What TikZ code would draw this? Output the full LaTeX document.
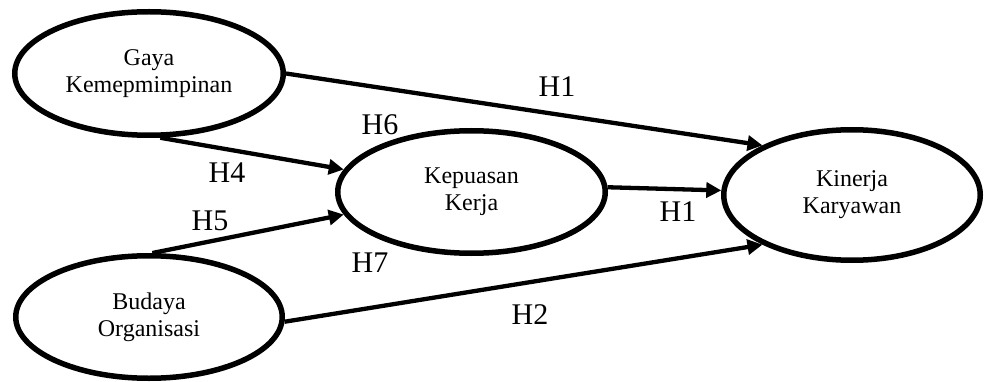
\documentclass[tikz,border=0pt]{standalone}
\usepackage{fontspec}
\setmainfont{Liberation Serif}
\usetikzlibrary{shapes.geometric,arrows.meta}
\begin{document}
\begin{tikzpicture}[x=1pt,y=-1pt,
  var/.style={ellipse,draw,line width=5.5pt,inner sep=0pt,align=center,
    font=\fontsize{24}{27}\selectfont},
  link/.style={line width=4.3pt,-{Triangle[length=15pt,width=15pt]}},
  hyp/.style={font=\fontsize{30}{32}\selectfont,inner sep=0pt}]
\useasboundingbox (0,0) rectangle (984,382);
\node[var,minimum width=268.5pt,minimum height=123.5pt] (gaya) at (149,73.5) {Gaya\\Kemepmimpinan};
\node[var,minimum width=266.5pt,minimum height=122.5pt] (bud) at (149,317) {Budaya\\Organisasi};
\node[var,minimum width=267.5pt,minimum height=122.5pt] (kep) at (471.5,192) {Kepuasan\\Kerja};
\node[var,minimum width=256.5pt,minimum height=130.5pt] (kin) at (852,195) {Kinerja\\Karyawan};

\draw[link] (gaya.east) -- (kin.151);
\draw[link] (gaya.-80) -- (kep.170.6);
\draw[link] (bud.87) -- (kep.190.2);
\draw[link] (kep.2) -- (kin.178);
\draw[link] (bud.-2) -- (kin.209);

\node[hyp] (h1a) at (557,87) {H1};
\node[hyp] (h6) at (380,125) {H6};
\node[hyp] (h4) at (227,173) {H4};
\node[hyp] (h5) at (210,221) {H5};
\node[hyp] (h7) at (370,263) {H7};
\node[hyp] (h1b) at (678,212) {H1};
\node[hyp] (h2) at (530,315) {H2};
\end{tikzpicture}
\end{document}
